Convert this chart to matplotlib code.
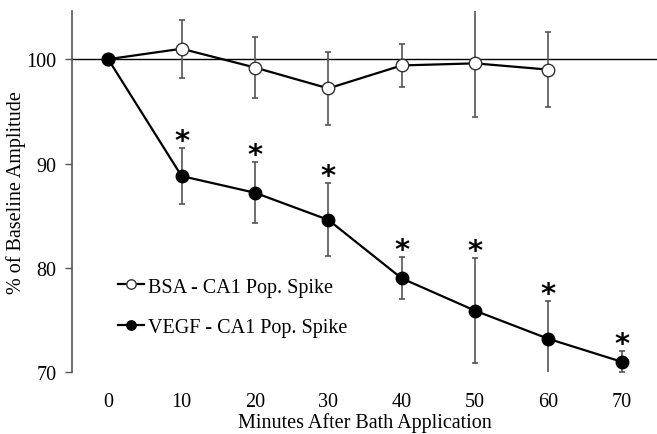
import matplotlib.pyplot as plt
import numpy as np

plt.rcParams['font.family'] = ['Liberation Serif', 'DejaVu Serif']

minutes = [0, 10, 20, 30, 40, 50, 60, 70]

# BSA - CA1 Pop. Spike (no point at 70)
bsa_x = [0, 10, 20, 30, 40, 50, 60]
bsa_y = [100, 101.0, 99.2, 97.2, 99.4, 99.6, 99.0]
bsa_err = [0, 2.8, 2.9, 3.5, 2.1, 5.1, 3.6]

# VEGF - CA1 Pop. Spike
vegf_x = [0, 10, 20, 30, 40, 50, 60, 70]
vegf_y = [100, 88.8, 87.2, 84.6, 79.0, 75.9, 73.2, 71.0]
vegf_err = [0, 2.7, 2.9, 3.5, 2.0, 5.0, 3.6, 1.0]
vegf_sig = [False, True, True, True, True, True, True, True]

fig, ax = plt.subplots(figsize=(6.57, 4.35), dpi=100)
fig.subplots_adjust(left=0.11, right=1.0, top=0.972, bottom=0.142)

err_col = '#555555'
ax.axhline(100, color='black', lw=1.0, zorder=1)

ax.errorbar(bsa_x, bsa_y, yerr=bsa_err, fmt='none', ecolor=err_col,
            elinewidth=1.2, capsize=2.5, capthick=1.2, zorder=2)
ax.plot(bsa_x, bsa_y, '-o', color='black', lw=1.6, ms=9,
        mfc='white', mec='#333333', mew=1.0, zorder=3,
        label='BSA - CA1 Pop. Spike')

ax.errorbar(vegf_x, vegf_y, yerr=vegf_err, fmt='none', ecolor=err_col,
            elinewidth=1.2, capsize=2.5, capthick=1.2, zorder=2)
ax.plot(vegf_x, vegf_y, '-o', color='black', lw=1.6, ms=9,
        mfc='black', mec='black', zorder=3,
        label='VEGF - CA1 Pop. Spike')

# significance stars just above the upper error caps
for xi, yi, ei, s in zip(vegf_x, vegf_y, vegf_err, vegf_sig):
    if s:
        ax.annotate('*', xy=(xi, yi + ei), xytext=(0, -5),
                    textcoords='offset points', ha='center', va='bottom',
                    fontsize=21, fontweight='bold',
                    family=['DejaVu Sans'])

ax.set_xlim(-4.9, 74.8)
ax.set_ylim(70, 104.6)
ax.set_yticks([70, 80, 90, 100])
ax.set_xticks(minutes)
ax.tick_params(axis='x', length=0, labelsize=14.5, pad=14.5)
ax.tick_params(axis='y', length=5, width=1.0, color='#555555',
               labelsize=14.5, direction='out', pad=6.5)

for side in ['top', 'right', 'bottom']:
    ax.spines[side].set_visible(False)
ax.spines['left'].set_color('#555555')
ax.spines['left'].set_linewidth(1.2)

ax.set_xlabel('Minutes After Bath Application', fontsize=14.5, labelpad=0.5)
ax.set_ylabel('% of Baseline Amplitude', fontsize=14.5, labelpad=0)

ax.legend(loc='lower left', bbox_to_anchor=(0.047, 0.048), frameon=False,
          fontsize=14.5, handlelength=1.3, handletextpad=0.2,
          labelspacing=1.05, markerscale=0.75)

fig.savefig('out.png', dpi=100)
